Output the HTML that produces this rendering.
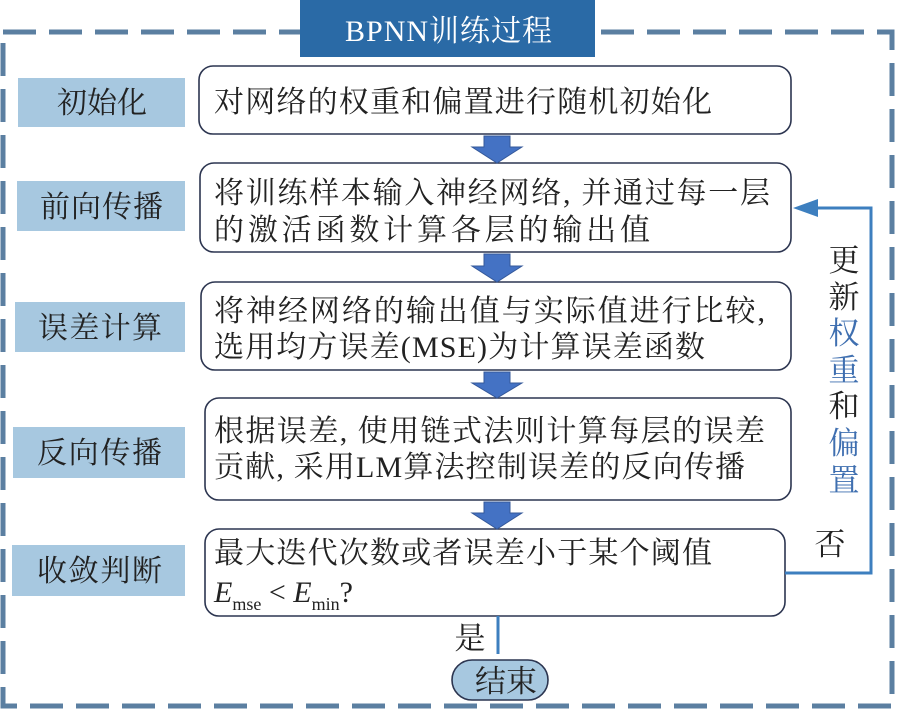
<!DOCTYPE html>
<html><head><meta charset="utf-8"><style>
body{margin:0;background:#fff}
svg text{font-family:"Liberation Serif","Noto Serif CJK SC",serif;}
</style></head><body>
<svg width="905" height="722" xmlns="http://www.w3.org/2000/svg">
<rect x="3" y="32" width="889" height="674" fill="none" stroke="#5b7fa1" stroke-width="5" stroke-dasharray="33,13"/>
<rect x="300" y="0" width="295" height="57" fill="#2a6aa6"/>
<text x="345" y="41" font-size="30" fill="#fff" textLength="207" lengthAdjust="spacing">BPNN训练过程</text>
<g fill="#a7c8e0">
<rect x="18" y="78" width="167" height="49"/>
<rect x="17" y="181" width="168" height="50"/>
<rect x="15" y="302" width="170" height="50"/>
<rect x="13" y="427" width="172" height="51"/>
<rect x="12" y="545" width="173" height="51"/>
</g>
<g font-size="30" fill="#222">
<text x="57" y="113" textLength="90" lengthAdjust="spacing">初始化</text>
<text x="40" y="217" textLength="123" lengthAdjust="spacing">前向传播</text>
<text x="38" y="338" textLength="124" lengthAdjust="spacing">误差计算</text>
<text x="37" y="463" textLength="125" lengthAdjust="spacing">反向传播</text>
<text x="37" y="581" textLength="125" lengthAdjust="spacing">收敛判断</text>
</g>
<g fill="#fff" stroke="#2c3550" stroke-width="1.6">
<rect x="199" y="66" width="592" height="68" rx="14"/>
<rect x="200" y="163" width="591" height="89" rx="14"/>
<rect x="201" y="282" width="590" height="88" rx="14"/>
<rect x="205" y="398" width="586" height="102" rx="14"/>
<rect x="205" y="529" width="580" height="87" rx="14"/>
</g>
<g fill="#4472c4" stroke="#34589a" stroke-width="1">
<polygon points="484,136 510,136 510,147 522,147 497,163 472,147 484,147"/>
<polygon points="484,254 510,254 510,266 522,266 497,282 472,266 484,266"/>
<polygon points="484,372 510,372 510,383 522,383 497,398 472,383 484,383"/>
<polygon points="484,502 510,502 510,513 522,513 497,529 472,513 484,513"/>
</g>
<g font-size="30" fill="#222">
<text x="214" y="112" textLength="498" lengthAdjust="spacing">对网络的权重和偏置进行随机初始化</text>
<text x="214" y="203" textLength="556" lengthAdjust="spacing">将训练样本输入神经网络, 并通过每一层</text>
<text x="214" y="240" textLength="436" lengthAdjust="spacing">的激活函数计算各层的输出值</text>
<text x="214" y="321" textLength="551" lengthAdjust="spacing">将神经网络的输出值与实际值进行比较,</text>
<text x="214" y="357" textLength="491" lengthAdjust="spacing">选用均方误差(MSE)为计算误差函数</text>
<text x="214" y="441" textLength="551" lengthAdjust="spacing">根据误差, 使用链式法则计算每层的误差</text>
<text x="214" y="477" textLength="531" lengthAdjust="spacing">贡献, 采用LM算法控制误差的反向传播</text>
<text x="214" y="563" textLength="498" lengthAdjust="spacing">最大迭代次数或者误差小于某个阈值</text>
<text x="214" y="602"><tspan font-style="italic">E</tspan><tspan font-size="18" dy="8">mse</tspan><tspan dy="-8"> &lt; </tspan><tspan font-style="italic">E</tspan><tspan font-size="18" dy="8">min</tspan><tspan dy="-8">?</tspan></text>
</g>
<polyline points="785,573 871,573 871,208 812,208" fill="none" stroke="#3d7fbf" stroke-width="3"/>
<polygon points="793,208 818,199 818,217" fill="#3d7fbf"/>
<g font-size="31" text-anchor="middle">
<text x="844" y="271" fill="#222">更</text>
<text x="844" y="308" fill="#222">新</text>
<text x="844" y="344" fill="#3f6fb0">权</text>
<text x="844" y="381" fill="#3f6fb0">重</text>
<text x="844" y="417" fill="#222">和</text>
<text x="844" y="454" fill="#3f6fb0">偏</text>
<text x="844" y="491" fill="#3f6fb0">置</text>
<text x="830" y="555" fill="#222">否</text>
<text x="470" y="649" fill="#222">是</text>
</g>
<line x1="498" y1="616" x2="498" y2="654" stroke="#3d7fbf" stroke-width="3"/>
<rect x="452" y="660" width="96" height="40" rx="20" fill="#a7c8e0" stroke="#2c3550" stroke-width="1.6"/>
<text x="506" y="692" font-size="31" fill="#222" text-anchor="middle">结束</text>
</svg>
</body></html>
